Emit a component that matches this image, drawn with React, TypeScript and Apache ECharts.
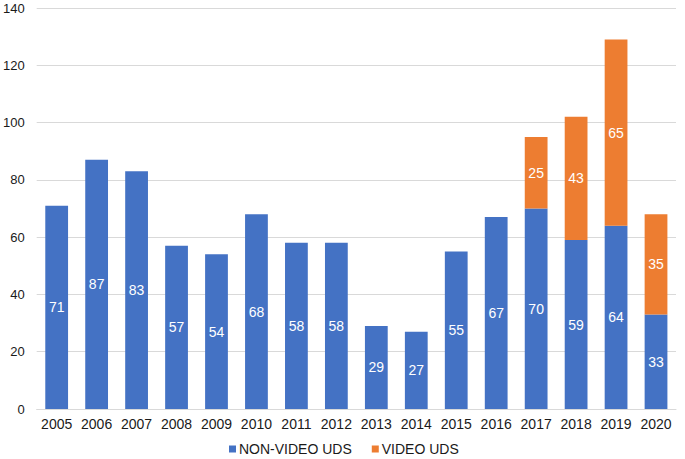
import React, { useEffect, useRef } from "react";
import * as echarts from "echarts";

const years = ["2005","2006","2007","2008","2009","2010","2011","2012","2013","2014","2015","2016","2017","2018","2019","2020"];
const nonVideo = [71, 87, 83, 57, 54, 68, 58, 58, 29, 27, 55, 67, 70, 59, 64, 33];
const video: (number | null)[] = [null, null, null, null, null, null, null, null, null, null, null, null, 25, 43, 65, 35];

const FONT = "'Liberation Sans', Arial, sans-serif";
const TEXT = "#1a1a1a";

export default function App() {
  const ref = useRef<HTMLDivElement>(null);
  useEffect(() => {
    if (!ref.current) return;
    const chart = echarts.init(ref.current, undefined, { renderer: "svg" });
    const label = {
      show: true,
      position: "inside" as const,
      color: "#ffffff",
      fontSize: 14,
      fontFamily: FONT,
    };
    chart.setOption({
      animation: false,
      backgroundColor: "#ffffff",
      grid: { left: 34, right: 9, top: 8, bottom: 50, containLabel: false },
      legend: {
        top: 442,
        left: 229,
        padding: 0,
        itemWidth: 7,
        itemHeight: 7,
        itemGap: 20,
        icon: "rect",
        textStyle: { fontSize: 14, lineHeight: 14, color: TEXT, fontFamily: FONT, padding: [0, 0, 0, -2] },
        data: ["NON-VIDEO UDS", "VIDEO UDS"],
      },
      xAxis: {
        type: "category",
        data: years,
        axisLine: { lineStyle: { color: "#d9d9d9", width: 1 } },
        axisTick: { show: false },
        axisLabel: { color: TEXT, fontSize: 14, fontFamily: FONT, margin: 8, interval: 0 },
      },
      yAxis: {
        type: "value",
        min: 0,
        max: 140,
        interval: 20,
        axisLine: { show: false },
        axisTick: { show: false },
        splitLine: { lineStyle: { color: "#d9d9d9", width: 1 } },
        axisLabel: { color: TEXT, fontSize: 13, fontFamily: FONT, margin: 12 },
      },
      series: [
        {
          name: "NON-VIDEO UDS",
          type: "bar",
          stack: "total",
          data: nonVideo,
          barWidth: "57%",
          itemStyle: { color: "#4472C4" },
          label,
        },
        {
          name: "VIDEO UDS",
          type: "bar",
          stack: "total",
          data: video,
          barWidth: "57%",
          itemStyle: { color: "#ED7D31" },
          label,
        },
      ],
    });
    return () => chart.dispose();
  }, []);
  return (
    <div
      ref={ref}
      style={{ position: "absolute", left: 0, top: 0, width: 685, height: 459 }}
    />
  );
}
